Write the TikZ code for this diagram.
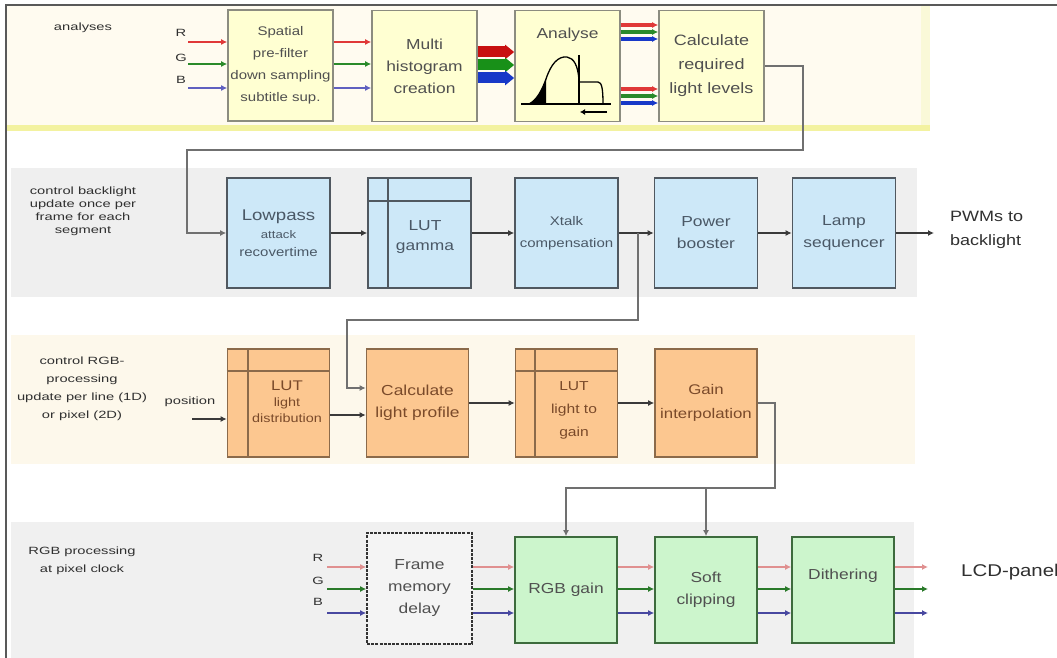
\documentclass[tikz,border=0pt]{standalone}
\usepackage{fontspec}
\setmainfont{Liberation Sans}
\newfontfamily\lblf[FakeStretch=1.4]{Liberation Sans}
\newfontfamily\boxf[FakeStretch=1.2]{Liberation Sans}
\usetikzlibrary{arrows.meta,calc}
\definecolor{ybfill}{HTML}{FFFFD2}
\definecolor{ybdraw}{HTML}{8C8C80}
\definecolor{ybtext}{HTML}{505050}
\definecolor{bbfill}{HTML}{CDE8F8}
\definecolor{bbdraw}{HTML}{505860}
\definecolor{bbtext}{HTML}{4A5866}
\definecolor{obfill}{HTML}{FCC790}
\definecolor{obdraw}{HTML}{8B6A4A}
\definecolor{obtext}{HTML}{7A4A2A}
\definecolor{gbfill}{HTML}{CCF5CC}
\definecolor{gbdraw}{HTML}{3D6B3D}
\definecolor{gbtext}{HTML}{505050}
\definecolor{fmfill}{HTML}{F4F4F4}
\definecolor{bandA}{HTML}{FFFBF0}
\definecolor{bandAline}{HTML}{F3F2A0}
\definecolor{bandAedge}{HTML}{FAF9D8}
\definecolor{bandB}{HTML}{EFEFEF}
\definecolor{bandC}{HTML}{FDF8EB}
\definecolor{bandD}{HTML}{F0F0F0}
\definecolor{conncol}{HTML}{3A3A3A}
\definecolor{grayconn}{HTML}{707070}
\definecolor{lblcol}{HTML}{303030}
\definecolor{rA}{HTML}{E03838}
\definecolor{gA}{HTML}{2A8A2A}
\definecolor{bA}{HTML}{6060C0}
\definecolor{rT}{HTML}{C81010}
\definecolor{gT}{HTML}{189018}
\definecolor{bT}{HTML}{1838C8}
\definecolor{rD}{HTML}{E09090}
\definecolor{gD}{HTML}{2A7A2A}
\definecolor{bD}{HTML}{4848A0}
\begin{document}
\begin{tikzpicture}[x=1pt,y=-1pt,
  box/.style={rectangle,line width=1.7pt,align=center,inner sep=1pt,
    font=\boxf\fontsize{14.5}{22}\selectfont},
  yb/.style={box,fill=ybfill,draw=ybdraw,text=ybtext,minimum width=105pt,minimum height=111pt},
  bb/.style={box,fill=bbfill,draw=bbdraw,text=bbtext,minimum width=103pt,minimum height=110pt},
  ob/.style={box,fill=obfill,draw=obdraw,text=obtext,minimum width=102pt,minimum height=108pt},
  gb/.style={box,fill=gbfill,draw=gbdraw,text=gbtext,minimum width=102pt,minimum height=106pt},
  fm/.style={box,fill=fmfill,draw=black!80,text=gbtext,dash pattern=on 3pt off 1.2pt,minimum width=105pt,minimum height=111pt},
  inner/.style={line width=1.7pt},
  boxtxt/.style={align=center,inner sep=0pt,font=\boxf\fontsize{14.5}{22}\selectfont},
  lbl/.style={align=center,inner sep=0pt,text=lblcol,font=\lblf\fontsize{10.5}{13}\selectfont},
  rgblbl/.style={inner sep=0pt,text=lblcol,font=\lblf\fontsize{10.5}{12}\selectfont},
  outlbl/.style={align=left,anchor=west,inner sep=0pt,text=lblcol,font=\boxf\fontsize{15}{24}\selectfont},
  tip/.style={-{Latex[length=6pt,width=6pt]}},
  conn/.style={tip,line width=2.2pt,draw=conncol},
  gconn/.style={tip,line width=1.7pt,draw=grayconn},
  rgbline/.style={-{Latex[length=6pt,width=6pt]},line width=2.6pt},
  thick rgb/.style={-{Triangle[length=9pt,width=14pt]},line width=11pt},
  thin rgb/.style={-{Latex[length=6pt,width=6pt]},line width=3.4pt}
]
\useasboundingbox (0,0) rectangle (1057,658);
\fill[white] (0,0) rectangle (1057,658);
% bands
\fill[bandA] (7,6) rectangle (930,131);
\fill[bandAedge] (921,6) rectangle (930,125);
\fill[bandAline] (7,125) rectangle (930,131);
\fill[bandB] (11,168) rectangle (917,297);
\fill[bandC] (11,335) rectangle (915,464);
\fill[bandD] (11,522) rectangle (914,658);
% frame
\draw[line width=1.5pt,draw=black!65] (6,658) -- (6,5) -- (1057,5);

% band labels
\node[lbl] (lanalyses) at (83,28) {analyses};
\node[lbl] (lcontrolbl) at (83,211) {control backlight\\update once per\\frame for each\\segment};
\node[lbl,font=\lblf\fontsize{10.5}{18}\selectfont] (lcontrolrgb) at (82,389) {control RGB-\\processing\\update per line (1D)\\or pixel (2D)};
\node[lbl,font=\lblf\fontsize{10.5}{18}\selectfont] (lrgbproc) at (82,561) {RGB processing\\at pixel clock};

% ---------------- row 1
\node[yb,font=\boxf\fontsize{12.5}{22}\selectfont] (spatial) at (280.5,65.5) {Spatial\\pre-filter\\down sampling\\subtitle sup.};
\node[yb] (multi) at (424.5,66) {Multi\\histogram\\creation};
\node[yb] (analyse) at (567.5,66) {};
\node[boxtxt,text=ybtext] (analysetxt) at (567.5,35) {Analyse};
\node[yb,font=\boxf\fontsize{15}{24}\selectfont] (calcreq) at (711.5,66) {Calculate\\required\\light levels};

% histogram drawing in Analyse
\fill[black] (529,104) .. controls (537,100) and (542,90) .. (546,79) -- (546,104) -- cycle;
\draw[line width=1.3pt] (521,104) -- (611,104);
\draw[line width=1.3pt] (529,104) .. controls (537,100) and (542,90) .. (546,79)
  .. controls (551,64) and (558,56) .. (567,57) .. controls (574,58) and (578,66) .. (579,80);
\draw[line width=1.3pt] (579,55) -- (579,104);
\draw[line width=1.3pt] (579,82) -- (598,82) .. controls (602,82) and (603,90) .. (603,104);
\draw[line width=2.4pt,-{Latex[length=5pt,width=6pt]}] (607,112) -- (580,112);

% RGB inputs row 1
\node[rgblbl] (lr1) at (181,33) {R};
\node[rgblbl] (lg1) at (181,58) {G};
\node[rgblbl] (lb1) at (181,80) {B};
\coordinate (r1) at (188,42);
\coordinate (g1) at (188,64);
\coordinate (b1) at (188,88);
\draw[rgbline,draw=rA] (r1) -- (r1 -| spatial.west);
\draw[rgbline,draw=gA] (g1) -- (g1 -| spatial.west);
\draw[rgbline,draw=bA] (b1) -- (b1 -| spatial.west);
\draw[rgbline,draw=rA] (spatial.east |- r1) -- (multi.west |- r1);
\draw[rgbline,draw=gA] (spatial.east |- g1) -- (multi.west |- g1);
\draw[rgbline,draw=bA] (spatial.east |- b1) -- (multi.west |- b1);
% thick bars
\draw[thick rgb,draw=rT,fill=rT] ($(multi.east)+(0,-14)$) -- ($(analyse.west)+(0,-14)$);
\draw[thick rgb,draw=gT,fill=gT] ($(multi.east)+(0,-1)$) -- ($(analyse.west)+(0,-1)$);
\draw[thick rgb,draw=bT,fill=bT] ($(multi.east)+(0,12)$) -- ($(analyse.west)+(0,12)$);
% thin triples
\draw[thin rgb,draw=rA] ($(analyse.east)+(0,-41)$) -- ($(calcreq.west)+(0,-41)$);
\draw[thin rgb,draw=gA] ($(analyse.east)+(0,-34)$) -- ($(calcreq.west)+(0,-34)$);
\draw[thin rgb,draw=bT] ($(analyse.east)+(0,-27)$) -- ($(calcreq.west)+(0,-27)$);
\draw[thin rgb,draw=rA] ($(analyse.east)+(0,23)$) -- ($(calcreq.west)+(0,23)$);
\draw[thin rgb,draw=gA] ($(analyse.east)+(0,30)$) -- ($(calcreq.west)+(0,30)$);
\draw[thin rgb,draw=bT] ($(analyse.east)+(0,37)$) -- ($(calcreq.west)+(0,37)$);

% ---------------- row 2
\node[bb] (lowpass) at (278.5,233) {{\fontsize{15.5}{16}\selectfont Lowpass}\\[-4pt]{\fontsize{11}{12}\selectfont attack}\\[-4pt]{\fontsize{12.5}{12}\selectfont recovertime}};
\node[bb] (lutg) at (419.5,233) {};
\draw[inner,draw=bbdraw] ($(lutg.north west)+(21,0)$) -- ($(lutg.south west)+(21,0)$);
\draw[inner,draw=bbdraw] ($(lutg.north west)+(0,24)$) -- ($(lutg.north east)+(0,24)$);
\node[boxtxt,text=bbtext,font=\boxf\fontsize{14.5}{20}\selectfont] (lutgtxt) at (425,237) {LUT\\gamma};
\node[bb,font=\boxf\fontsize{12.5}{22}\selectfont] (xtalk) at (566.5,233) {Xtalk\\compensation};
\node[bb] (power) at (706,233) {Power\\booster};
\node[bb] (lamp) at (844,233) {Lamp\\sequencer};
\coordinate (pwm) at (934,233);
\node[outlbl] (pwmtxt) at (950,230) {PWMs to\\backlight};

\coordinate (k1) at (803,150);
\coordinate (k2) at (187,150);
\draw[gconn] (calcreq.east) -| (k1) -- (k2) |- (lowpass.west);
\draw[conn] (lowpass) -- (lutg);
\draw[conn] (lutg) -- (xtalk);
\draw[conn] (xtalk) -- (power);
\draw[conn] (power) -- (lamp);
\draw[conn] (lamp) -- (pwm);

% ---------------- row 3
\node[ob] (lutld) at (278.5,403) {};
\draw[inner,draw=obdraw] ($(lutld.north west)+(21,0)$) -- ($(lutld.south west)+(21,0)$);
\draw[inner,draw=obdraw] ($(lutld.north west)+(0,23)$) -- ($(lutld.north east)+(0,23)$);
\node[boxtxt,text=obtext,font=\boxf\fontsize{12}{16}\selectfont] (lutldtxt) at (287,402) {{\fontsize{14}{16}\selectfont LUT}\\light\\distribution};
\node[ob] (calclp) at (417.5,403) {Calculate\\light profile};
\node[ob] (lutlg) at (566.5,403) {};
\draw[inner,draw=obdraw] ($(lutlg.north west)+(20,0)$) -- ($(lutlg.south west)+(20,0)$);
\draw[inner,draw=obdraw] ($(lutlg.north west)+(0,23)$) -- ($(lutlg.north east)+(0,23)$);
\node[boxtxt,text=obtext,font=\boxf\fontsize{13}{23}\selectfont] (lutlgtxt) at (574,410) {LUT\\light to\\gain};
\node[ob,font=\boxf\fontsize{14}{24}\selectfont] (gain) at (706,403) {Gain\\interpolation};

\node[lbl] (lpos) at (190,402) {position};
\coordinate (posin) at (192,419);
\draw[conn] (posin) -- (posin -| lutld.west);
\draw[conn] ($(lutld.east)+(0,12)$) -- ($(calclp.west)+(0,12)$);
\draw[conn] (calclp) -- (lutlg);
\draw[conn] (lutlg) -- (gain);

\coordinate (j1) at (638,233);
\coordinate (k3) at (347,320);
\draw[gconn] (j1) |- (k3) |- ([yshift=15pt]calclp.west);

% ---------------- row 4
\node[fm] (frame) at (419.5,588.5) {Frame\\memory\\delay};
\node[gb] (rgbgain) at (566,590) {RGB gain};
\node[gb] (soft) at (706,590) {Soft\\clipping};
\node[gb] (dither) at (843,590) {};
\node[boxtxt,text=gbtext] (dithertxt) at (843,576) {Dithering};

\node[rgblbl] (lr4) at (318,558) {R};
\node[rgblbl] (lg4) at (318,581) {G};
\node[rgblbl] (lb4) at (318,602) {B};
\coordinate (r4) at (327,567);
\coordinate (g4) at (327,589);
\coordinate (b4) at (327,613);
\coordinate (ro) at (928,567);
\coordinate (go) at (928,589);
\coordinate (bo) at (928,613);
\draw[rgbline,draw=rD] (r4) -- (r4 -| frame.west);
\draw[rgbline,draw=gD] (g4) -- (g4 -| frame.west);
\draw[rgbline,draw=bD] (b4) -- (b4 -| frame.west);
\draw[rgbline,draw=rD] (frame.east |- r4) -- (rgbgain.west |- r4);
\draw[rgbline,draw=gD] (frame.east |- g4) -- (rgbgain.west |- g4);
\draw[rgbline,draw=bD] (frame.east |- b4) -- (rgbgain.west |- b4);
\draw[rgbline,draw=rD] (rgbgain.east |- r4) -- (soft.west |- r4);
\draw[rgbline,draw=gD] (rgbgain.east |- g4) -- (soft.west |- g4);
\draw[rgbline,draw=bD] (rgbgain.east |- b4) -- (soft.west |- b4);
\draw[rgbline,draw=rD] (soft.east |- r4) -- (dither.west |- r4);
\draw[rgbline,draw=gD] (soft.east |- g4) -- (dither.west |- g4);
\draw[rgbline,draw=bD] (soft.east |- b4) -- (dither.west |- b4);
\draw[rgbline,draw=rD] (dither.east |- r4) -- (ro);
\draw[rgbline,draw=gD] (dither.east |- g4) -- (go);
\draw[rgbline,draw=bD] (dither.east |- b4) -- (bo);
\node[outlbl,font=\boxf\fontsize{17}{20}\selectfont] (lcd) at (961,572) {LCD-panel};

\coordinate (k4) at (775,488);
\coordinate (k5) at (706,488);
\draw[gconn] (gain.east) -| (k4) -| (rgbgain.north);
\draw[gconn] (k5) -- (soft.north);
\end{tikzpicture}
\end{document}
